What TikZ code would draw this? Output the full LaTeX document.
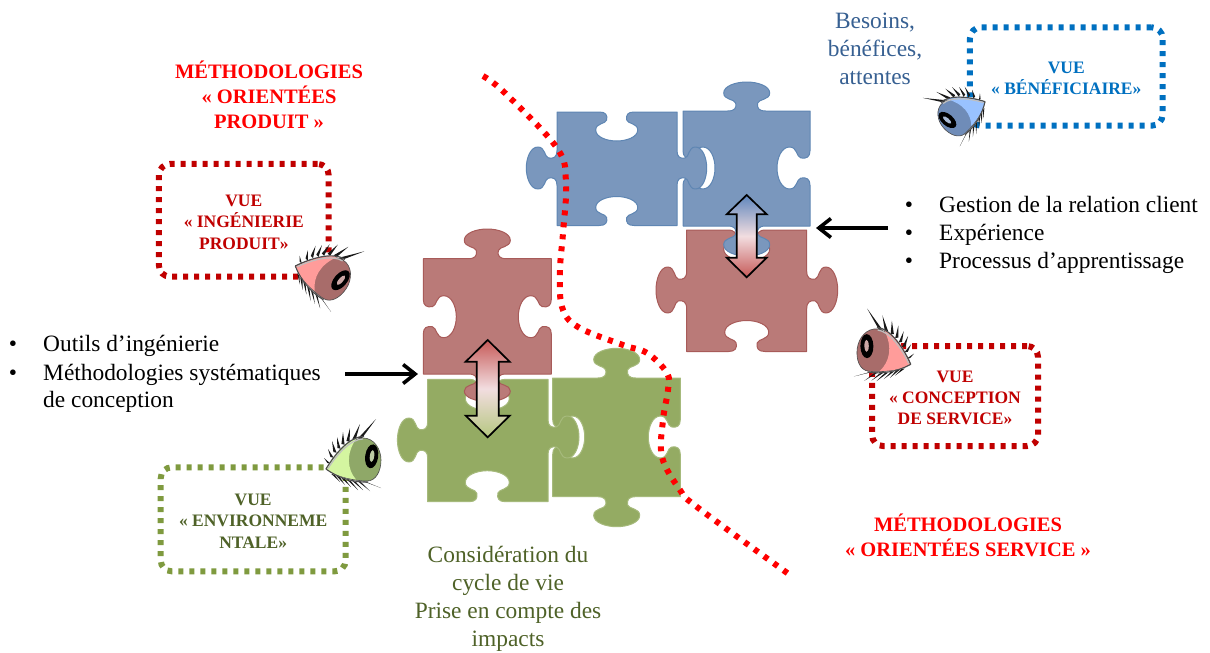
\documentclass[tikz,border=0pt]{standalone}
\usepackage{fontspec}
\setmainfont{Liberation Serif}
\usetikzlibrary{arrows.meta}
\definecolor{pblue}{HTML}{7A97BD}\definecolor{pblueb}{HTML}{5F86B3}
\definecolor{pred}{HTML}{BA7A78}\definecolor{predb}{HTML}{A85B59}
\definecolor{pgreen}{HTML}{94AB63}\definecolor{pgreenb}{HTML}{A6BA7C}
\definecolor{boxblue}{HTML}{0070C0}\definecolor{boxred}{HTML}{C00000}
\definecolor{boxgreen}{HTML}{7F9A3F}\definecolor{txtgreen}{HTML}{4F6228}
\definecolor{txtblue}{HTML}{376092}
\definecolor{aBlue}{HTML}{5F86BC}\definecolor{aPink}{HTML}{F2DDE0}
\definecolor{aRed}{HTML}{C65A58}\definecolor{aGreen}{HTML}{B5C77F}
\definecolor{eGball}{HTML}{8FA868}\definecolor{eGscl}{HTML}{D4F5A0}
\definecolor{eRball}{HTML}{A86C6A}\definecolor{eRscl}{HTML}{FF9C9A}
\definecolor{eBball}{HTML}{6F8CB8}\definecolor{eBscl}{HTML}{99C2FF}
% puzzle-piece path builder (coordinates in pixels, y down)
\newcommand\Q[2]{(\fpeval{round(\cx+(#1)*\us*\ax+(#2)*\vs*\ox,2)},\fpeval{round(\cy+(#1)*\us*\ay+(#2)*\vs*\oy,2)})}
\newcommand\startp[2]{\gdef\pth{(#1,#2)}}
\newcommand\cornerp[2]{\xdef\pth{\pth -- (#1,#2)}}
\newcommand\bump[5]{\def\cx{#1}\def\cy{#2}%
  \csname dir#3\endcsname
  \edef\vs{\fpeval{(#4)/29}}\edef\us{\fpeval{(#5)/23}}%
  \xdef\pth{\pth -- \Q{-19}{0} .. controls \Q{-12}{0} and \Q{-10}{3} .. \Q{-11}{8}
   .. controls \Q{-12}{12} and \Q{-23}{11} .. \Q{-23}{18}
   .. controls \Q{-23}{25} and \Q{-11}{29} .. \Q{0}{29}
   .. controls \Q{11}{29} and \Q{23}{25} .. \Q{23}{18}
   .. controls \Q{23}{11} and \Q{12}{12} .. \Q{11}{8}
   .. controls \Q{10}{3} and \Q{12}{0} .. \Q{19}{0}}}
\expandafter\def\csname dirT\endcsname{\def\ax{1}\def\ay{0}\def\ox{0}\def\oy{-1}}
\expandafter\def\csname dirR\endcsname{\def\ax{0}\def\ay{1}\def\ox{1}\def\oy{0}}
\expandafter\def\csname dirB\endcsname{\def\ax{-1}\def\ay{0}\def\ox{0}\def\oy{1}}
\expandafter\def\csname dirL\endcsname{\def\ax{0}\def\ay{-1}\def\ox{-1}\def\oy{0}}
\newcommand\up{\rule{0pt}{15pt}}
% eye
\newcommand\eye[7]{% x y rot xflip scale ball sclera
 \begin{scope}[shift={(#1,#2)},rotate=#3,xscale=#4,scale=#5]
  \draw[white,line width=3,line cap=round]
    (0,0) .. controls (10,-15) and (25,-31) .. (37,-31) .. controls (48,-31) and (55,-20) .. (55,-9)
    .. controls (55,2) and (50,12) .. (41,12) .. controls (28,12) and (12,8) .. (0,0);
  \foreach \a/\b/\c/\d in {3/-6/-2/-11, 6/-12/2/-20, 9/-17/6/-28, 13/-21/11/-32, 17/-25/17/-37, 22/-28/24/-41, 28/-30/34/-45, 34/-31/50/-50,
     7/5/14/13, 12/7/19/16, 17/9/25/18, 23/11/32/21, 28/12/37/21, 33/12/44/22, 38/12/55/19}
    {\fill[black!90] (\a-1.6,\b) -- (\c,\d) -- (\a+1.6,\b+0.7) -- cycle;}
  \fill[#6,draw=black!70,line width=.6]
    (0,0) .. controls (10,-15) and (25,-31) .. (37,-31) .. controls (48,-31) and (55,-20) .. (55,-9)
    .. controls (55,2) and (50,12) .. (41,12) .. controls (28,12) and (12,8) .. (0,0) -- cycle;
  \fill[#7] (0,0) .. controls (10,-15) and (20,-28) .. (30,-30)
     .. controls (20,-15) and (21,0) .. (30,10.5) .. controls (20,9) and (10,7) .. (0,0) -- cycle;
  \fill[black,rotate around={-8:(45.7,-12.7)}] (45.7,-12.7) ellipse [x radius=6.5,y radius=12];
  \fill[#6!60!white,rotate around={-8:(45.7,-12.7)}] (46,-13) ellipse [x radius=2.2,y radius=6];
  \draw[black!70,line width=1.2] (0,0) .. controls (10,-17) and (25,-33) .. (38,-32.5);
  \draw[white!75!black,line width=1.2] (2,-.5) .. controls (11,-15) and (25,-30) .. (37,-30);
  \draw[black!70,line width=1.1] (0,0) .. controls (12,9) and (28,13.5) .. (42,13);
 \end{scope}}
\tikzset{
  piece/.style={fill=#1,draw=#1b,line width=1,line join=round},
  dotbox/.style={draw=#1,line width=6,dash pattern=on 5pt off 6pt,rounded corners=11pt,
     inner sep=0pt,align=center,font=\fontsize{17.5}{21.3}\selectfont\bfseries},
  body/.style={font=\fontsize{23.4}{28}\selectfont,inner sep=0pt},
  title/.style={font=\fontsize{20.5}{25}\selectfont\bfseries,inner sep=0pt,align=center,text=red},
  bararrow/.style={black,line width=3.8,-{Straight Barb[length=12pt,width=19pt,line width=3.6pt]}},
  dbl/.style={draw=black,line width=1.7,line join=miter}
}
\begin{document}
\begin{tikzpicture}[x=1pt,y=-1pt]
\useasboundingbox (0,0) rectangle (1210,653);
\fill[white] (0,0) rectangle (1210,653);

% red piece, right
\startp{686.7}{230}\bump{746.7}{230}{T}{-31}{23}\cornerp{806.7}{230}
\bump{806.7}{290}{R}{31}{23}\cornerp{806.7}{351.5}\bump{746.7}{351.5}{B}{-31}{22}\cornerp{686.7}{351.5}
\bump{686.7}{290}{L}{30.7}{23}
\path[piece=pred] \pth -- cycle;
% blue piece 2
\startp{683}{111}\bump{746.7}{111}{T}{29}{23}\cornerp{810}{111}
\bump{810}{168}{R}{-33}{21}\cornerp{810}{226}\bump{746.7}{226}{B}{30}{23}\cornerp{683}{226}
\bump{683}{168}{L}{-32}{21}
\path[piece=pblue] \pth -- cycle;
% blue piece 1
\startp{557}{112}\bump{616.7}{112}{T}{-29}{21}\cornerp{677}{112}
\bump{677}{168}{R}{29.7}{21}\cornerp{677}{225.5}\bump{616.7}{225.5}{B}{-29}{21}\cornerp{557}{225.5}
\bump{557}{168}{L}{30.7}{21}
\path[piece=pblue] \pth -- cycle;

% green piece 2
\startp{552.7}{378}\bump{616.7}{378}{T}{29.7}{23}\cornerp{680.3}{378}
\bump{680.3}{437}{R}{-32}{21}\cornerp{680.3}{496.7}\bump{616.7}{496.7}{B}{30}{23}\cornerp{552.7}{496.7}
\bump{552.7}{437}{L}{-32}{21}
\path[piece=pgreen] \pth -- cycle;
% green piece 1
\startp{427.7}{379.3}\bump{487.3}{379.3}{T}{-31}{22}\cornerp{548}{379.3}
\bump{548}{437}{R}{31}{21}\cornerp{548}{501.7}\bump{487.3}{501.7}{B}{-31}{22}\cornerp{427.7}{501.7}
\bump{427.7}{440}{L}{30.3}{22}
\path[piece=pgreen] \pth -- cycle;
% red piece, left
\startp{423.3}{258.7}\bump{487.3}{258.7}{T}{29.7}{23}\cornerp{551.3}{258.7}
\bump{551.3}{316.7}{R}{-33}{21}\cornerp{551.3}{374}\bump{487.3}{374}{B}{27.5}{23}\cornerp{423.3}{374}
\bump{423.3}{316.7}{L}{-33}{21}
\path[piece=pred] \pth -- cycle;

% double arrows
\path[dbl,top color=aBlue,bottom color=aRed,middle color=aPink] 
  (746.7,195) -- (766.7,214.3) -- (756.7,214.3) -- (756.7,257.7) -- (766.7,257.7) -- (746.7,277.3)
  -- (726.7,257.7) -- (736.7,257.7) -- (736.7,214.3) -- (726.7,214.3) -- cycle;
\path[dbl,top color=aRed,bottom color=aGreen,middle color=aPink]
  (487.7,340) -- (509.7,361.7) -- (498.7,361.7) -- (498.7,415.7) -- (509.7,415.7) -- (487.7,437.3)
  -- (465.7,415.7) -- (476.7,415.7) -- (476.7,361.7) -- (465.7,361.7) -- cycle;

% red dotted separator
\draw[red,line width=6,dash pattern=on 5pt off 7pt] plot[smooth,tension=.6] coordinates {
 (483,76) (505,93) (557,148) (566,183) (563,233) (560,270) (562,307) (578,327) (623,345) (647,353)
 (667,373) (668,390) (663,420) (662,457) (680,490) (697,507) (790,575)};

% view boxes
\node[dotbox=boxblue,text=boxblue,minimum width=192.7pt,minimum height=98.4pt] (vben) at (1066.3,76.5) {\up VUE\\« BÉNÉFICIAIRE»};
\node[dotbox=boxred,text=boxred,minimum width=169.7pt,minimum height=112.7pt] (vprod) at (243.8,220.3) {\up VUE\\« INGÉNIERIE\\PRODUIT»};
\node[dotbox=boxred,text=boxred,minimum width=166pt,minimum height=100pt] (vserv) at (955,396) {\up VUE\\« CONCEPTION\\DE SERVICE»};
\node[dotbox=boxgreen,text=txtgreen,minimum width=185pt,minimum height=104pt] (venv) at (253.2,519.3) {\up VUE\\« ENVIRONNEME\\NTALE»};

% eyes
\eye{326}{469}{0}{1}{1}{eGball}{eGscl}
\eye{295.3}{266}{-33}{1}{1}{eRball}{eRscl}
\eye{910.7}{364.3}{-7}{-1}{1}{eRball}{eRscl}
\eye{985}{101.7}{41.5}{-1}{.88}{eBball}{eBscl}

% titles
\node[title] (t1) at (269,95) {MÉTHODOLOGIES\\« ORIENTÉES\\PRODUIT »};
\node[title] (t2) at (968,535.5) {MÉTHODOLOGIES\\« ORIENTÉES SERVICE »};
\node[body,align=center,text=txtblue] (t3) at (875,49) {Besoins,\\bénéfices,\\attentes};
\node[body,align=center,text=txtgreen] (t4) at (508,599) {Considération du\\cycle de vie\\Prise en compte des\\impacts};

% bullet lists
\node[body,anchor=base] (br1) at (909,212) {•};
\node[body,anchor=base] (br2) at (909,240) {•};
\node[body,anchor=base] (br3) at (909,268) {•};
\node[body,anchor=base west] (lr1) at (939,212) {Gestion de la relation client};
\node[body,anchor=base west] (lr2) at (939,240) {Expérience};
\node[body,anchor=base west] (lr3) at (939,268) {Processus d’apprentissage};
\node[body,anchor=base] (bl1) at (13,351) {•};
\node[body,anchor=base] (bl2) at (13,380) {•};
\node[body,anchor=base west] (ll1) at (43,351) {Outils d’ingénierie};
\node[body,anchor=base west] (ll2) at (43,380) {Méthodologies systématiques};
\node[body,anchor=base west] (ll3) at (43,407) {de conception};

% black arrows
\coordinate (ar1) at (888,228); \coordinate (ar2) at (816,228);
\coordinate (al1) at (345,374); \coordinate (al2) at (418,374);
\draw[bararrow] (ar1) -- (ar2);
\draw[bararrow] (al1) -- (al2);
\end{tikzpicture}
\end{document}
